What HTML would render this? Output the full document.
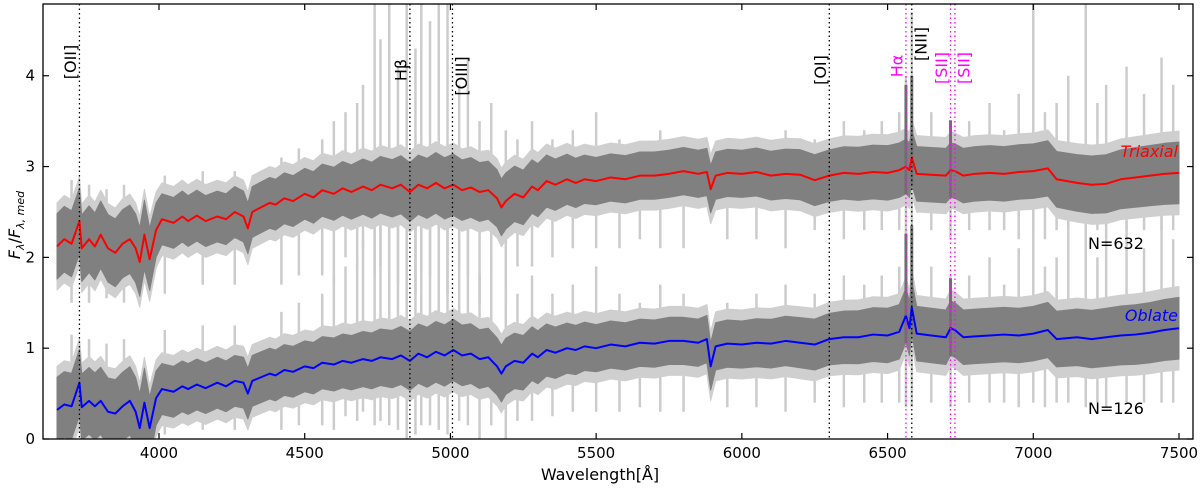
<!DOCTYPE html>
<html><head><meta charset="utf-8">
<style>
html,body{margin:0;padding:0;background:#fff;}
svg{display:block;font-family:"DejaVu Sans","Liberation Sans",sans-serif;}
</style></head>
<body>
<svg id="chart" width="1200" height="490" viewBox="0 0 1200 490">
<g id="plot"></g>
</svg>
<script>
// ---- data: [wavelength, normalized flux] ----
const triaxial = [[3650,2.12],[3675,2.2],[3700,2.15],[3727,2.4],[3735,2.1],[3760,2.2],[3780,2.12],[3800,2.25],[3825,2.1],[3850,2.05],[3875,2.15],[3900,2.2],[3920,2.1],[3934,1.95],[3950,2.25],[3968,1.98],[3990,2.3],[4010,2.42],[4050,2.38],[4080,2.45],[4100,2.4],[4130,2.46],[4160,2.4],[4200,2.45],[4230,2.42],[4260,2.5],[4290,2.45],[4305,2.32],[4320,2.5],[4350,2.55],[4380,2.6],[4400,2.58],[4430,2.65],[4460,2.62],[4500,2.7],[4530,2.66],[4560,2.74],[4600,2.7],[4630,2.76],[4660,2.72],[4700,2.78],[4730,2.74],[4760,2.8],[4800,2.76],[4830,2.8],[4861,2.72],[4890,2.8],[4920,2.76],[4950,2.82],[4980,2.76],[5010,2.8],[5040,2.74],[5070,2.77],[5100,2.72],[5130,2.74],[5160,2.65],[5175,2.55],[5190,2.62],[5220,2.7],[5250,2.66],[5280,2.78],[5300,2.74],[5330,2.84],[5360,2.8],[5400,2.86],[5430,2.82],[5460,2.86],[5500,2.84],[5550,2.88],[5600,2.86],[5650,2.9],[5700,2.9],[5750,2.92],[5800,2.95],[5850,2.92],[5880,2.94],[5893,2.75],[5910,2.9],[5950,2.93],[6000,2.92],[6050,2.94],[6100,2.9],[6150,2.92],[6200,2.91],[6250,2.85],[6300,2.9],[6350,2.93],[6400,2.92],[6450,2.94],[6500,2.93],[6540,2.96],[6563,3.0],[6575,2.96],[6583,3.1],[6600,2.92],[6650,2.91],[6700,2.9],[6716,2.96],[6731,2.95],[6760,2.9],[6800,2.92],[6850,2.93],[6900,2.92],[6950,2.94],[7000,2.95],[7050,2.98],[7080,2.86],[7150,2.82],[7200,2.8],[7250,2.81],[7300,2.86],[7350,2.88],[7400,2.9],[7450,2.92],[7500,2.93]];
const oblate = [[3650,0.32],[3675,0.38],[3700,0.36],[3727,0.62],[3735,0.35],[3760,0.42],[3780,0.36],[3800,0.42],[3825,0.3],[3850,0.28],[3875,0.36],[3900,0.42],[3920,0.3],[3934,0.12],[3950,0.4],[3968,0.12],[3990,0.45],[4010,0.55],[4050,0.52],[4080,0.58],[4100,0.55],[4130,0.6],[4160,0.56],[4200,0.62],[4230,0.58],[4260,0.64],[4290,0.62],[4305,0.5],[4320,0.64],[4350,0.68],[4380,0.72],[4400,0.7],[4430,0.76],[4460,0.74],[4500,0.8],[4530,0.78],[4560,0.84],[4600,0.82],[4630,0.86],[4660,0.84],[4700,0.88],[4730,0.86],[4760,0.9],[4800,0.88],[4830,0.92],[4861,0.86],[4890,0.94],[4920,0.9],[4950,0.96],[4980,0.92],[5010,0.98],[5040,0.92],[5070,0.94],[5100,0.88],[5130,0.9],[5160,0.8],[5175,0.72],[5190,0.8],[5220,0.86],[5250,0.84],[5280,0.94],[5300,0.9],[5330,0.98],[5360,0.95],[5400,1.0],[5430,0.98],[5460,1.02],[5500,1.0],[5550,1.04],[5600,1.02],[5650,1.06],[5700,1.05],[5750,1.08],[5800,1.08],[5850,1.06],[5880,1.1],[5893,0.8],[5910,1.02],[5950,1.05],[6000,1.04],[6050,1.06],[6100,1.05],[6150,1.08],[6200,1.06],[6250,1.04],[6300,1.1],[6350,1.12],[6400,1.12],[6450,1.15],[6500,1.14],[6540,1.18],[6563,1.36],[6575,1.22],[6583,1.45],[6600,1.16],[6650,1.14],[6700,1.12],[6716,1.22],[6731,1.2],[6760,1.12],[6800,1.13],[6850,1.14],[6900,1.15],[6950,1.14],[7000,1.16],[7050,1.2],[7080,1.1],[7150,1.12],[7200,1.1],[7250,1.12],[7300,1.14],[7350,1.15],[7400,1.17],[7450,1.2],[7500,1.22]];
const bandWave = [3650,3950,4000,4500,5000,5500,6000,6500,7000,7500];
const bandHalf = [0.36,0.38,0.28,0.28,0.34,0.26,0.26,0.3,0.3,0.34];
const spikeWave = [3700,3760,3820,3880,4020,4150,4260,4420,4480,4560,4600,4640,4680,4700,4740,4760,4790,4820,4850,4880,4900,4930,4960,4990,5030,5060,5100,5140,5190,5230,5280,5350,5420,5500,5580,5650,5720,5800,5950,6050,6150,6250,6350,6420,6480,6540,6563,6583,6650,6716,6780,6850,6900,6950,7000,7040,7080,7120,7180,7220,7250,7320,7380,7440,7480];
const spikeTop = [2.85,2.8,2.75,2.8,2.9,2.95,2.95,3.1,3.2,3.3,3.5,3.6,3.7,3.9,4.8,4.4,4.8,4.1,4.8,4.3,4.8,4.6,4.8,4.8,3.9,4.2,3.5,3.7,3.4,3.3,3.5,3.3,3.4,3.6,3.3,3.2,3.4,3.3,3.2,3.3,3.4,3.3,3.5,3.4,3.5,3.6,4.0,4.7,3.6,3.5,3.5,3.7,3.4,3.8,4.8,3.6,3.7,4.0,4.8,3.7,3.9,4.1,3.8,4.2,3.9];
const spikeBottom = [0.0,0.0,0.05,0.0,0.1,0.2,0.2,0.2,0.3,0.3,0.2,0.5,0.4,0.6,0.3,0.4,0.3,0.2,0.0,0.1,0.3,0.3,0.2,0.1,0.4,0.3,0.0,0.3,0.0,0.4,0.4,0.5,0.6,0.6,0.6,0.7,0.6,0.6,0.7,0.7,0.6,0.8,0.7,0.8,0.8,0.8,0.7,0.7,0.8,0.7,0.8,0.8,0.8,0.7,0.8,0.7,0.8,0.8,0.7,0.8,0.7,0.8,0.8,0.8,0.8];
const lineWave = [3727,4861,5007,6300,6563,6583,6716,6731];
const lineLabel = ["[OII]","Hβ","[OIII]","[OI]","Hα","[NII]","[SII]","[SII]"];
const lineColor = ["#000","#000","#000","#000","#f0f","#000","#f0f","#f0f"];
const lineSide = [-1,-1,1,-1,-1,1,-1,1];
const lineLabelY = [62,70,76,70,66,44,68,68];
const xTicks = [4000,4500,5000,5500,6000,6500,7000,7500];
const yTicks = [0,1,2,3,4];

// ---- axes ----
const X0=43,X1=1193,Y0=439,Y1=4;
const xDomain=[3602,7548], yDomain=[0,4.79];
const sx=w=>X0+(w-xDomain[0])/(xDomain[1]-xDomain[0])*(X1-X0);
const sy=v=>Y0-(v-yDomain[0])/(yDomain[1]-yDomain[0])*(Y0-Y1);
function halfAt(w){
  for(let i=1;i<bandWave.length;i++){ if(w<=bandWave[i]){const t=(w-bandWave[i-1])/(bandWave[i]-bandWave[i-1]);return bandHalf[i-1]+t*(bandHalf[i]-bandHalf[i-1]);} }
  return bandHalf[bandHalf.length-1];
}
const NS="http://www.w3.org/2000/svg";
const plot=document.getElementById('plot');
function mk(tag,attrs,parent){const e=document.createElementNS(NS,tag);for(const k in attrs)e.setAttribute(k,attrs[k]);(parent||plot).appendChild(e);return e;}
const clip=mk('clipPath',{id:'clp'});mk('rect',{x:X0,y:Y1,width:X1-X0,height:Y0-Y1},clip);
const g=mk('g',{'clip-path':'url(#clp)'});



// light spikes
[0,1].forEach(si=>{
  spikeWave.forEach((w,i)=>{
    const top = si===0? spikeTop[i] : Math.min(spikeTop[i]-1.7, 2.6);
    const bot = si===0? spikeBottom[i]+1.5 : spikeBottom[i]*0.5;
    const l=mk('line',{x1:sx(w),x2:sx(w),y1:sy(top),y2:sy(bot),stroke:'#cccccc','stroke-width':2.5},g);
    
    
  });
});
// gray bands
function band(pts,extra,fill,name){
  let up='',lo='';
  pts.forEach((p,i)=>{up+=(i?'L':'M')+sx(p[0])+','+sy(p[1]+halfAt(p[0])+extra);});
  for(let i=pts.length-1;i>=0;i--){lo+='L'+sx(pts[i][0])+','+sy(pts[i][1]-halfAt(pts[i][0])-extra);}
  const p=mk('path',{d:up+lo+'Z',fill:fill,stroke:fill,'stroke-width':1,'stroke-linejoin':'round'},g);
  
  
}
band(triaxial,0.12,'#cfcfcf','triaxial-spectra-outer');
band(oblate,0.12,'#cfcfcf','oblate-spectra-outer');
band(triaxial,0,'#808080','triaxial-spectra-band');
band(oblate,0,'#808080','oblate-spectra-band');
// emission peaks
[[triaxial,'triaxial'],[oblate,'oblate']].forEach(([pts,nm])=>{
  pts.forEach(p=>{
    if(p[0]===6563||p[0]===6583||p[0]===6716){
      const l=mk('line',{x1:sx(p[0]),x2:sx(p[0]),y1:sy(p[1]+(p[0]===6716?0.55:0.9)),y2:sy(p[1]-0.3),stroke:'#707070','stroke-width':3},g);
      
      
    }
  });
});
// median lines
function medLine(pts,color,name){
  const d=pts.map((p,i)=>(i?'L':'M')+sx(p[0])+','+sy(p[1])).join('');
  const p=mk('path',{d:d,fill:'none',stroke:color,'stroke-width':2,'stroke-linejoin':'round'},g);
  
  
}
medLine(triaxial,'#ff0000','triaxial-median-line');
medLine(oblate,'#0000ff','oblate-median-line');

// vertical lines + labels
lineWave.forEach((w,i)=>{
  const x=sx(w);
  const l=mk('line',{x1:x,x2:x,y1:Y1,y2:Y0,stroke:lineColor[i],'stroke-width':1.3,'stroke-dasharray':'1.5,3'});
  
  
  const tx=x+lineSide[i]*9, ty=lineLabelY[i];
  const t=mk('text',{x:tx,y:ty,fill:lineColor[i],'font-size':16,'text-anchor':'middle','dominant-baseline':'central',transform:`rotate(-90 ${tx} ${ty})`});
  t.textContent=lineLabel[i];
  
  
});

// frame
const fr=mk('rect',{x:X0,y:Y1,width:X1-X0,height:Y0-Y1,fill:'none',stroke:'#000','stroke-width':1.3});


xTicks.forEach(v=>{
  const x=sx(v);
  mk('line',{x1:x,x2:x,y1:Y0,y2:Y0-6,stroke:'#000','stroke-width':1.2});
  mk('line',{x1:x,x2:x,y1:Y1,y2:Y1+6,stroke:'#000','stroke-width':1.2});
  const t=mk('text',{x:x,y:Y0+19,'font-size':15,'text-anchor':'middle'});
  t.textContent=v;
  
  
});
yTicks.forEach(v=>{
  const y=sy(v);
  mk('line',{x1:X0,x2:X0+6,y1:y,y2:y,stroke:'#000','stroke-width':1.2});
  mk('line',{x1:X1,x2:X1-6,y1:y,y2:y,stroke:'#000','stroke-width':1.2});
  const t=mk('text',{x:X0-8,y:y+5,'font-size':15,'text-anchor':'end'});
  t.textContent=v;
  
  
});
</script>
<svg style="position:absolute;left:0;top:0" width="1200" height="490">
<text x="600" y="480" font-size="16" text-anchor="middle" font-family="DejaVu Sans,Liberation Sans,sans-serif">Wavelength[Å]</text>
<text transform="translate(20 225) rotate(-90)" font-size="16" text-anchor="middle" font-family="DejaVu Sans,Liberation Sans,sans-serif"><tspan font-style="italic">F</tspan><tspan font-size="11" dy="4" font-style="italic">λ</tspan><tspan dy="-4">/</tspan><tspan font-style="italic">F</tspan><tspan font-size="11" dy="4" font-style="italic">λ, med</tspan></text>
<text x="1178" y="157" font-size="16" fill="#ff0000" font-style="italic" text-anchor="end" font-family="DejaVu Sans,Liberation Sans,sans-serif">Triaxial</text>
<text x="1178" y="321" font-size="16" fill="#0000ff" font-style="italic" text-anchor="end" font-family="DejaVu Sans,Liberation Sans,sans-serif">Oblate</text>
<text x="1088" y="249" font-size="16" font-family="DejaVu Sans,Liberation Sans,sans-serif">N=632</text>
<text x="1088" y="414" font-size="16" font-family="DejaVu Sans,Liberation Sans,sans-serif">N=126</text>
</svg>
</body></html>
